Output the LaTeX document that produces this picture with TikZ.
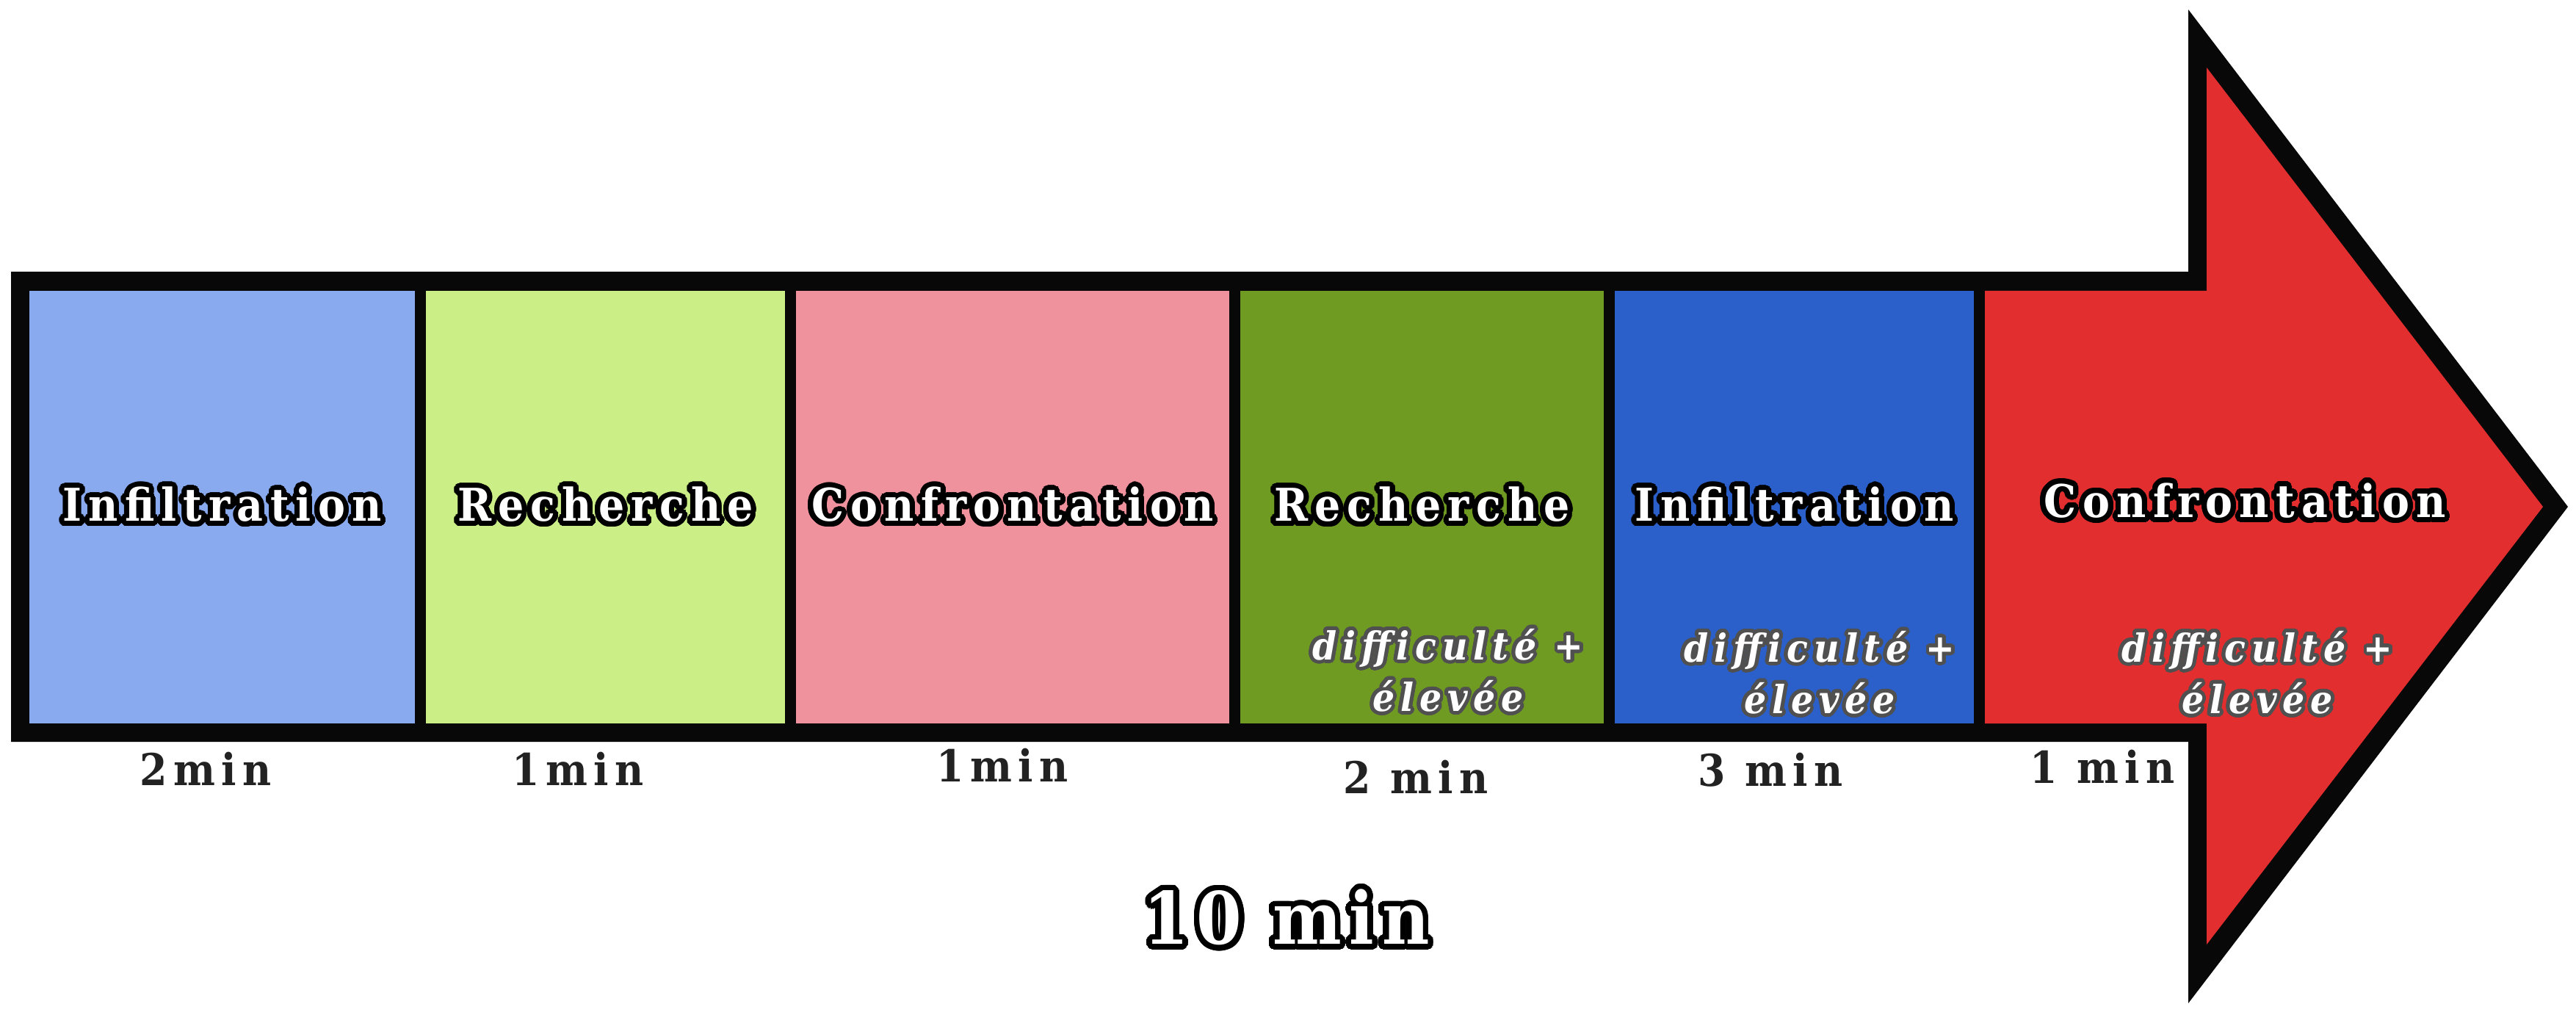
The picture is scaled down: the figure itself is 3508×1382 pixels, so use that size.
\documentclass[tikz,border=0pt]{standalone}
\usepackage{fontspec}
\usepackage{xcolor}
\usepackage{contour}
\usetikzlibrary{positioning}
\contournumber{32}
\newfontfamily\slabfont[LetterSpace=15]{DejaVu Serif Condensed}
\newfontfamily\totfont[LetterSpace=11]{DejaVu Serif Condensed}
\newfontfamily\durfont[LetterSpace=14]{DejaVu Serif Condensed}
\definecolor{frame}{HTML}{080808}
\definecolor{infilA}{HTML}{89AAEE}
\definecolor{rechA}{HTML}{CBEF86}
\definecolor{confA}{HTML}{EF929D}
\definecolor{rechB}{HTML}{709B22}
\definecolor{infilB}{HTML}{2B60CA}
\definecolor{confB}{HTML}{E32E2F}
\definecolor{durtxt}{HTML}{222222}
\definecolor{diffline}{HTML}{505050}
\newcommand{\headtxt}[1]{{\slabfont\bfseries\fontsize{17.5}{20}\selectfont\contourlength{2pt}\contour{black}{#1}}}
\newcommand{\difftxt}{\contour{diffline}{difficulté +}\\\contour{diffline}{élevée}}

\begin{document}
\begin{tikzpicture}[x=0.1mm, y=-0.1mm]
		\tikzset{seg/.style={rectangle, inner sep=0, minimum height=58.9mm, text=white}}
		\tikzset{diff/.style={align=center, text=white, inner sep=0, font=\slabfont\bfseries\itshape\fontsize{15}{20}\selectfont\contourlength{1.4pt}}}
		\tikzset{dur/.style={text=durtxt, inner sep=0, font=\durfont\bfseries\fontsize{17}{18}\selectfont}}
		\useasboundingbox (0,0) rectangle (3508,1382);
		
		% fleche
		\fill[frame] (15,370) -- (2980,370) -- (2980,13) -- (3497,690) -- (2980,1366) -- (2980,1010) -- (15,1010) -- cycle;
		\fill[confB] (2703,396) -- (3005,396) -- (3005,92) -- (3463,690) -- (3005,1286) -- (3005,985) -- (2703,985) -- cycle;
		
		\node[seg, fill=infilA, minimum width=52.5mm] (1seg) at (302.5,690.5) {\headtxt{Infiltration}};
		\node[seg, fill=rechA, minimum width=48.9mm] (2seg) at (824.5,690.5) {\headtxt{Recherche}};
		\node[seg, fill=confA, minimum width=59mm] (3seg) at (1379,690.5) {\headtxt{Confrontation}};
		\node[seg, fill=rechB, minimum width=49.5mm] (4seg) at (1936.5,690.5) {\headtxt{Recherche}};
		\node[seg, fill=infilB, minimum width=48.9mm] (5seg) at (2443.5,690.5) {\headtxt{Infiltration}};
		\node[text=white, inner sep=0] (6seg) at (3057,685) {\headtxt{Confrontation}};
		
		\node[diff] (4diff) at (1972,915) {\difftxt};
		\node[diff] (5diff) at (2478,918) {\difftxt};
		\node[diff] (6diff) at (3074,918) {\difftxt};
		
		% durees
		\node[dur] (1dur) at (280,1047) {2min};
		\node[dur] (2dur) at (787,1047) {1min};
		\node[dur] (3dur) at (1365,1042) {1min};
		\node[dur] (4dur) at (1928,1058) {2 min};
		\node[dur] (5dur) at (2411,1048) {3 min};
		\node[dur] (6dur) at (2863,1044) {1 min};
		
		\node[text=white, inner sep=0] (total) at (1752,1253) {\totfont\bfseries\fontsize{28}{30}\selectfont\contourlength{2.2pt}\contour{black}{10 min}};
	\end{tikzpicture}
\end{document}
